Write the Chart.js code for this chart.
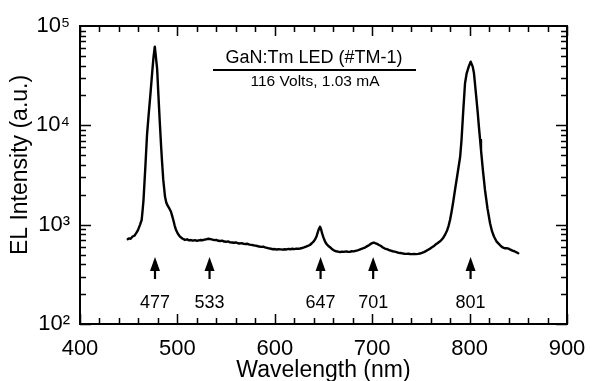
<!DOCTYPE html>
<html><head><meta charset="utf-8">
<script src="https://cdn.jsdelivr.net/npm/chart.js@4.4.1/dist/chart.umd.min.js"></script>
<style>html,body{margin:0;padding:0;background:#fff}#wrap{width:590px;height:381px;position:relative;background:#fff}</style>
</head><body><div id="wrap"><canvas id="c" width="590" height="381"></canvas></div>
<script>
const wavelengths = [449,450.5,452,454,456,458,459.5,461.5,463.3,464.3,465.2,466.2,467.2,468.8,470.4,472.4,474.3,475.5,476.8,478,479.2,480.4,481.8,483.2,484.3,485.5,487.3,488.5,489.6,491.5,493.4,494.7,495.8,497.2,498.6,500.5,502.7,505,507.8,510,512,514,516,518,520,522,524,526,528,530,532,534,536,538,540,542,544,546,548,550,552,554,556,558,560,562,564,566,568,570,572,574,576,578,580,582,584,586,588,590,592,594,596,598,600,602,604,606,608,610,612,614,616,618,620,622,624,626,628,630,632,634,636,638,640,641.5,643,644.5,645.5,646.4,647.5,648.5,650,651.5,653,655,657,659,661,663,665,667,669,671,673,675,677,679,681,683,685,687,689,691,693,695,697,699,700.5,701.8,703,705,707,709,711,713,715,717,719,721,723,725,727,729,731,733,735,737,739,741,743,745,747,749,751,753,755,757,759,761,763,765,767,769,771,773,775,777,778.5,779.9,781.5,783.2,785,787.5,790.3,791.7,793.4,795.3,797,799.1,801.1,803.2,804.5,805.5,806.9,808.3,809.5,810.8,811.7,813.7,815.8,818.4,821,823,825,827.8,830,832,834,836.3,838,840,842,844,846,848,850];
const intensities = [715,728,722,760,775,830,880,990,1114,1400,1770,2650,3990,8000,12500,21100,36000,49000,62000,48000,37000,21100,11300,6340,4200,2820,1910,1680,1580,1470,1350,1220,1114,980,883,810,757,725,702,712,695,700,690,698,688,694,700,697,708,714,722,716,708,699,702,688,684,690,676,672,678,664,662,658,662,650,646,652,640,638,642,630,626,620,616,610,602,598,600,590,584,578,572,566,568,562,566,564,560,566,563,570,566,572,568,574,572,576,582,590,600,612,624,650,680,715,770,860,920,953,900,820,740,680,640,610,590,565,548,540,535,530,536,532,538,534,532,540,538,546,552,560,570,580,592,608,625,645,655,660,652,640,625,610,590,575,566,556,548,540,536,528,520,518,514,510,508,510,506,505,507,505,508,512,520,530,542,556,570,588,605,630,650,672,700,740,800,880,980,1114,1350,1700,2235,3200,4830,7110,13600,26500,33400,39000,43700,39000,33400,26500,19000,13600,9800,7110,5650,3500,2235,1450,1033,860,760,674,640,610,590,578,580,574,560,548,540,528,515];
const xTickValues = [400,500,600,700,800,900];
const yTickValues = [100,1000,10000,100000];
const yTickLabels = ['10\u00B2','10\u00B3','10\u2074','10\u2075'];
const peakPositions = [477,533,647,701,801];
const peakLabels = ['477','533','647','701','801'];
const titleText = 'GaN:Tm LED (#TM-1)';
const subtitleText = '116 Volts, 1.03 mA';
const xTitle = 'Wavelength (nm)';
const yTitle = 'EL Intensity (a.u.)';

const FONT = '"Liberation Sans", Arial, Helvetica, sans-serif';

const points = wavelengths.map((w, i) => ({x: w, y: intensities[i]}));

const decor = {
  id: 'decor',
  afterDraw(chart) {
    const ctx = chart.ctx;
    const a = chart.chartArea;
    const xs = chart.scales.x, ys = chart.scales.y;
    ctx.save();
    ctx.strokeStyle = '#000';
    ctx.fillStyle = '#000';
    ctx.lineWidth = 2;
    ctx.strokeRect(a.left, a.top, a.right - a.left, a.bottom - a.top);
    ctx.lineWidth = 1.5;
    ctx.beginPath();
    for (let v = xs.min; v <= xs.max; v += 20) {
      const px = Math.round(xs.getPixelForValue(v)) + 0.5;
      const len = (v % 100 === 0) ? 10 : 6;
      ctx.moveTo(px, a.bottom); ctx.lineTo(px, a.bottom - len);
      ctx.moveTo(px, a.top); ctx.lineTo(px, a.top + len);
    }
    for (let d = 2; d <= 4; d++) {
      for (let m = 1; m <= 9; m++) {
        const v = m * Math.pow(10, d);
        const py = Math.round(ys.getPixelForValue(v)) + 0.5;
        const len = (m === 1) ? 11 : 6;
        ctx.moveTo(a.left, py); ctx.lineTo(a.left + len, py);
        ctx.moveTo(a.right, py); ctx.lineTo(a.right - len, py);
      }
    }
    ctx.stroke();
    ctx.save();
    ctx.translate(21, 165);
    ctx.rotate(-Math.PI / 2);
    ctx.font = '23px ' + FONT;
    ctx.textAlign = 'center';
    ctx.textBaseline = 'middle';
    ctx.fillText(yTitle, 0, 0);
    ctx.restore();
    ctx.textAlign = 'center';
    ctx.textBaseline = 'middle';
    ctx.font = '18px ' + FONT;
    ctx.fillText(titleText, 314, 58);
    ctx.lineWidth = 2;
    ctx.beginPath();
    ctx.moveTo(213, 70); ctx.lineTo(416, 70);
    ctx.stroke();
    ctx.font = '15.5px ' + FONT;
    ctx.fillText(subtitleText, 315, 82);
    ctx.font = '18px ' + FONT;
    peakPositions.forEach((p, i) => {
      const px = xs.getPixelForValue(p);
      const tip = a.bottom - 67, headBase = a.bottom - 53, tail = a.bottom - 45;
      ctx.beginPath();
      ctx.moveTo(px, tip);
      ctx.lineTo(px - 5, headBase);
      ctx.lineTo(px + 5, headBase);
      ctx.closePath();
      ctx.fill();
      ctx.lineWidth = 2.2;
      ctx.beginPath();
      ctx.moveTo(px, headBase - 1);
      ctx.lineTo(px, tail);
      ctx.stroke();
      ctx.fillText(peakLabels[i], px, a.bottom - 21);
    });
    ctx.restore();
  }
};

new Chart(document.getElementById('c'), {
  type: 'line',
  data: {
    datasets: [{
      data: points,
      borderColor: '#000',
      borderWidth: 2.4,
      borderJoinStyle: 'round',
      borderCapStyle: 'round',
      pointRadius: 0,
      tension: 0,
      fill: false
    }]
  },
  options: {
    responsive: false,
    animation: false,
    devicePixelRatio: 1,
    layout: {padding: {top: 26, right: 23, left: 0, bottom: 0}},
    plugins: {legend: {display: false}, tooltip: {enabled: false}},
    scales: {
      x: {
        type: 'linear', min: 400, max: 900,
        afterBuildTicks: s => { s.ticks = xTickValues.map(v => ({value: v})); },
        grid: {display: false, drawTicks: false},
        border: {display: false},
        ticks: {color: '#000', font: {family: FONT, size: 22}, padding: 12, maxRotation: 0, autoSkip: false},
        title: {display: true, text: xTitle, color: '#000', font: {family: FONT, size: 23, lineHeight: 1}, padding: {top: 0, bottom: -1}},
        afterFit: s => { s.height = 57; s.paddingLeft = 0; s.paddingRight = 0; }
      },
      y: {
        type: 'logarithmic', min: 100, max: 100000,
        afterBuildTicks: s => { s.ticks = yTickValues.map(v => ({value: v})); },
        grid: {display: false, drawTicks: false},
        border: {display: false},
        ticks: {color: '#000', font: {family: FONT, size: 22}, padding: 10, autoSkip: false,
          callback: (v, i) => yTickLabels[i]},
        afterFit: s => { s.width = 80; s.paddingTop = 0; s.paddingBottom = 0; }
      }
    }
  },
  plugins: [decor]
});
</script>
</body></html>
